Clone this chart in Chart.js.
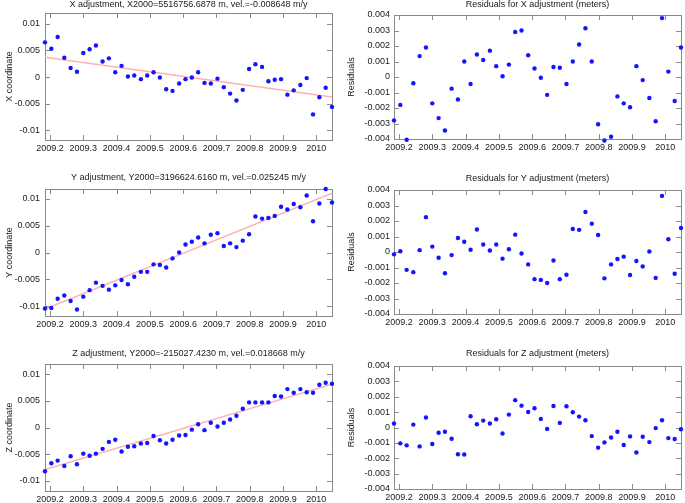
<!DOCTYPE html>
<html>
<head>
<meta charset="utf-8">
<script src="https://cdn.jsdelivr.net/npm/chart.js@4.4.0/dist/chart.umd.min.js"></script>
<style>
    body { margin: 0; background: #fff; width: 685px; height: 503px; overflow: hidden; position: relative; }
    canvas { position: absolute; }
</style>
</head>
<body>
<canvas id="xAdj"></canvas>
<canvas id="xRes"></canvas>
<canvas id="yAdj"></canvas>
<canvas id="yRes"></canvas>
<canvas id="zAdj"></canvas>
<canvas id="zRes"></canvas>
<script>
// weekly solution epochs (decimal year)
const epochs = [
    2009.185, 2009.204, 2009.223, 2009.243, 2009.262, 2009.281, 2009.300, 2009.319,
    2009.338, 2009.358, 2009.377, 2009.396, 2009.415, 2009.434, 2009.453, 2009.473,
    2009.492, 2009.511, 2009.530, 2009.549, 2009.568, 2009.588, 2009.607, 2009.626,
    2009.645, 2009.664, 2009.683, 2009.703, 2009.722, 2009.741, 2009.760, 2009.779,
    2009.798, 2009.817, 2009.837, 2009.856, 2009.875, 2009.894, 2009.913, 2009.932,
    2009.952, 2009.971, 2009.990, 2010.009, 2010.028, 2010.047
];

const xCoord = [
    0.0065, 0.0053, 0.0075, 0.0036, 0.0017, 0.0010, 0.0045, 0.0052, 0.0059, 0.0029,
    0.0035, 0.0009, 0.0021, 0.0001, 0.0003, -0.0004, 0.0003, 0.0009, -0.0001, -0.0023,
    -0.0026, -0.0012, -0.0004, -0.0001, 0.0009, -0.0011, -0.0012, -0.0003, -0.0019, -0.0031,
    -0.0044, -0.0024, 0.0015, 0.0024, 0.0019, -0.0008, -0.0005, -0.0004, -0.0033, -0.0025,
    -0.0015, -0.0002, -0.0070, -0.0038, -0.0020, -0.0056
];
const yCoord = [
    -0.0104, -0.0103, -0.0086, -0.0080, -0.0090, -0.0106, -0.0082, -0.0070, -0.0056, -0.0062,
    -0.0069, -0.0061, -0.0051, -0.0059, -0.0045, -0.0036, -0.0036, -0.0022, -0.0023, -0.0028,
    -0.0011, 0.0000, 0.0015, 0.0020, 0.0028, 0.0017, 0.0033, 0.0036, 0.0012, 0.0017,
    0.0010, 0.0022, 0.0034, 0.0067, 0.0063, 0.0064, 0.0068, 0.0085, 0.0080, 0.0090,
    0.0084, 0.0106, 0.0058, 0.0091, 0.0118, 0.0093
];
const zCoord = [
    -0.0082, -0.0067, -0.0062, -0.0072, -0.0054, -0.0069, -0.0049, -0.0053, -0.0049, -0.0040,
    -0.0027, -0.0023, -0.0045, -0.0036, -0.0035, -0.0030, -0.0029, -0.0016, -0.0024, -0.0030,
    -0.0023, -0.0015, -0.0014, -0.0004, 0.0006, -0.0005, 0.0009, 0.0002, 0.0009, 0.0015,
    0.0022, 0.0035, 0.0047, 0.0047, 0.0047, 0.0047, 0.0059, 0.0058, 0.0072, 0.0065,
    0.0072, 0.0066, 0.0065, 0.0080, 0.0084, 0.0082
];

const xResid = [
    -0.0028, -0.0018, -0.00405, -0.0004, 0.00135, 0.0019, -0.0017, -0.00265, -0.00345, -0.00075,
    -0.00145, 0.0010, -0.00045, 0.00145, 0.0011, 0.0017, 0.0007, 0.00005, 0.0008, 0.0029,
    0.0030, 0.0014, 0.00055, -0.00005, -0.00115, 0.00065, 0.0006, -0.00045, 0.0010, 0.0021,
    0.00315, 0.0010, -0.00305, -0.0041, -0.00385, -0.00125, -0.0017, -0.00195, 0.0007, -0.0002,
    -0.00135, -0.00285, 0.0038, 0.00035, -0.00155, 0.0019
];
const yResid = [
    -0.00015, 0.00005, -0.00115, -0.0013, 0.00012, 0.00225, 0.00035, -0.00037, -0.00137, -0.0002,
    0.0009, 0.00066, 0.00015, 0.00145, 0.00048, 0.0001, 0.00048, -0.00043, 0.00018, 0.00112,
    -0.0001, -0.0008, -0.00175, -0.0018, -0.0020, -0.00055, -0.00175, -0.00147, 0.00148, 0.00143,
    0.00258, 0.00183, 0.0011, -0.0017, -0.0008, -0.00045, -0.0003, -0.00148, -0.00058, -0.00093,
    0.00003, -0.00167, 0.00362, 0.00082, -0.0014, 0.00155
];
const zResid = [
    0.00026, -0.00103, -0.00116, 0.00019, -0.00123, 0.00065, -0.00107, -0.00034, -0.00028, -0.00073,
    -0.00174, -0.00176, 0.00073, 0.00021, 0.00045, 0.00026, 0.00054, -0.00039, 0.00084, 0.00178,
    0.00142, 0.00101, 0.00125, 0.00056, -0.00009, 0.0014, 0.0003, 0.00138, 0.00099, 0.00071,
    0.00047, -0.00056, -0.00131, -0.00097, -0.00065, -0.00028, -0.00114, -0.00058, -0.00163, -0.0006,
    -0.00095, -0.00004, 0.00047, -0.00069, -0.00075, -0.00011
];

// fitted trend line, value at first and last epoch
const xTrend = [0.0037, -0.00375];
const yTrend = [-0.0105, 0.0110];
const zTrend = [-0.0079, 0.0081];

const epochTicks = [2009.2, 2009.3, 2009.4, 2009.5, 2009.6, 2009.7, 2009.8, 2009.9, 2010];
const epochLabels = ["2009.2", "2009.3", "2009.4", "2009.5", "2009.6", "2009.7", "2009.8", "2009.9", "2010"];
const coordTicks = [0.01, 0.005, 0, -0.005, -0.01];
const coordLabels = ["0.01", "0.005", "0", "-0.005", "-0.01"];
const residTicks = [0.004, 0.003, 0.002, 0.001, 0, -0.001, -0.002, -0.003, -0.004];
const residLabels = ["0.004", "0.003", "0.002", "0.001", "0", "-0.001", "-0.002", "-0.003", "-0.004"];

const FONT = "'Liberation Sans', Arial, sans-serif";
const POINT_COLOR = "rgb(20, 20, 255)";
const LINE_COLOR = "rgb(255, 178, 178)";
const FRAME_COLOR = "#8a8a8a";
const TEXT_COLOR = "#1a1a1a";

const framePlugin = {
    id: "frame",
    beforeDatasetsDraw(chart) {
        const { ctx, chartArea: a, scales } = chart;
        const t = 5;
        ctx.save();
        ctx.strokeStyle = FRAME_COLOR;
        ctx.lineWidth = 1;
        ctx.beginPath();
        scales.x.ticks.forEach(tk => {
            const px = Math.round(scales.x.getPixelForValue(tk.value)) + 0.5;
            ctx.moveTo(px, a.bottom); ctx.lineTo(px, a.bottom - t);
            ctx.moveTo(px, a.top); ctx.lineTo(px, a.top + t);
        });
        scales.y.ticks.forEach(tk => {
            const py = Math.round(scales.y.getPixelForValue(tk.value)) + 0.5;
            ctx.moveTo(a.left, py); ctx.lineTo(a.left + t, py);
            ctx.moveTo(a.right, py); ctx.lineTo(a.right - t, py);
        });
        ctx.stroke();
        ctx.strokeRect(Math.round(a.left) + 0.5, Math.round(a.top) + 0.5,
            Math.round(a.right - a.left), Math.round(a.bottom - a.top));
        ctx.restore();
    }
};

function toPoints(values) {
    return values.map((v, i) => ({ x: epochs[i], y: v }));
}

function makePlot(p) {
    const canvas = document.getElementById(p.id);
    const yW = p.yW, rp = 3, xH = 15;
    const topH = Math.round(p.top - p.titleY + 6.4);
    const left = p.left - yW;
    const top = p.top - topH;
    const width = p.right - p.left + yW + rp;
    const height = topH + (p.bottom - p.top) + xH;
    canvas.width = width; canvas.height = height;
    canvas.style.left = left + "px"; canvas.style.top = top + "px";
    canvas.style.width = width + "px"; canvas.style.height = height + "px";

    const datasets = [{
        type: "scatter",
        data: toPoints(p.values),
        backgroundColor: POINT_COLOR,
        borderWidth: 0,
        pointRadius: 2.2,
        clip: false,
        order: 1
    }];
    if (p.trend) {
        datasets.push({
            type: "line",
            data: [{ x: epochs[0], y: p.trend[0] }, { x: epochs[epochs.length - 1], y: p.trend[1] }],
            borderColor: LINE_COLOR,
            borderWidth: 1.5,
            pointRadius: 0,
            fill: false,
            order: 2
        });
    }

    new Chart(canvas, {
        data: { datasets: datasets },
        plugins: [framePlugin],
        options: {
            responsive: false,
            animation: false,
            layout: { padding: { left: 0, right: rp, top: 0, bottom: 0 } },
            plugins: {
                legend: { display: false },
                tooltip: { enabled: false },
                title: {
                    display: true,
                    text: p.title,
                    fullSize: false,
                    color: TEXT_COLOR,
                    font: { family: FONT, size: 9, weight: "normal", lineHeight: 1.2 },
                    padding: { top: 1, bottom: topH - 11.8 }
                }
            },
            scales: {
                x: {
                    type: "linear",
                    min: epochs[0],
                    max: epochs[epochs.length - 1],
                    grid: { display: false, drawTicks: false },
                    border: { display: false },
                    afterBuildTicks: s => { s.ticks = epochTicks.map(v => ({ value: v })); },
                    afterFit: s => { s.height = xH; },
                    ticks: {
                        autoSkip: false,
                        maxRotation: 0,
                        padding: 3,
                        color: TEXT_COLOR,
                        font: { family: FONT, size: 9 },
                        callback: (v, i) => epochLabels[i]
                    }
                },
                y: {
                    type: "linear",
                    min: p.yMin,
                    max: p.yMax,
                    grid: { display: false, drawTicks: false },
                    border: { display: false },
                    afterBuildTicks: s => { s.ticks = p.yTicks.map(v => ({ value: v })); },
                    afterFit: s => { s.width = yW; },
                    ticks: {
                        autoSkip: false,
                        padding: p.tickPad,
                        color: TEXT_COLOR,
                        font: { family: FONT, size: 9 },
                        callback: (v, i) => p.yLabels[i]
                    },
                    title: {
                        display: true,
                        text: p.yTitle,
                        color: TEXT_COLOR,
                        font: { family: FONT, size: 9, lineHeight: 1.2 },
                        padding: { top: p.yTitlePad, bottom: 0 }
                    }
                }
            }
        }
    });
}

const leftCol = { left: 45, right: 333, yW: 45, tickPad: 5, yTitlePad: 4.1, yTicks: coordTicks, yLabels: coordLabels };
const rightCol = { left: 394, right: 682, yW: 50, tickPad: 4, yTitlePad: 2.3, yTicks: residTicks, yLabels: residLabels,
    yMin: -0.004, yMax: 0.004, yTitle: "Residuals" };

makePlot(Object.assign({}, leftCol, {
    id: "xAdj", top: 13, bottom: 140, titleY: 4.5, yMin: -0.0118, yMax: 0.012,
    title: "X adjustment, X2000=5516756.6878 m, vel.=-0.008648 m/y", yTitle: "X coordinate",
    values: xCoord, trend: xTrend
}));
makePlot(Object.assign({}, rightCol, {
    id: "xRes", top: 15, bottom: 139, titleY: 4.3,
    title: "Residuals for X adjustment (meters)", values: xResid
}));
makePlot(Object.assign({}, leftCol, {
    id: "yAdj", top: 189, bottom: 316, titleY: 177.7, yMin: -0.0118, yMax: 0.0118,
    title: "Y adjustment, Y2000=3196624.6160 m, vel.=0.025245 m/y", yTitle: "Y coordinate",
    values: yCoord, trend: yTrend
}));
makePlot(Object.assign({}, rightCol, {
    id: "yRes", top: 190, bottom: 314, titleY: 178.3,
    title: "Residuals for Y adjustment (meters)", values: yResid
}));
makePlot(Object.assign({}, leftCol, {
    id: "zAdj", top: 364, bottom: 491, titleY: 353.3, yMin: -0.0119, yMax: 0.0119,
    title: "Z adjustment, Y2000=-215027.4230 m, vel.=0.018668 m/y", yTitle: "Z coordinate",
    values: zCoord, trend: zTrend
}));
makePlot(Object.assign({}, rightCol, {
    id: "zRes", top: 366, bottom: 489, titleY: 353.3,
    title: "Residuals for Z adjustment (meters)", values: zResid
}));
</script>
</body>
</html>
